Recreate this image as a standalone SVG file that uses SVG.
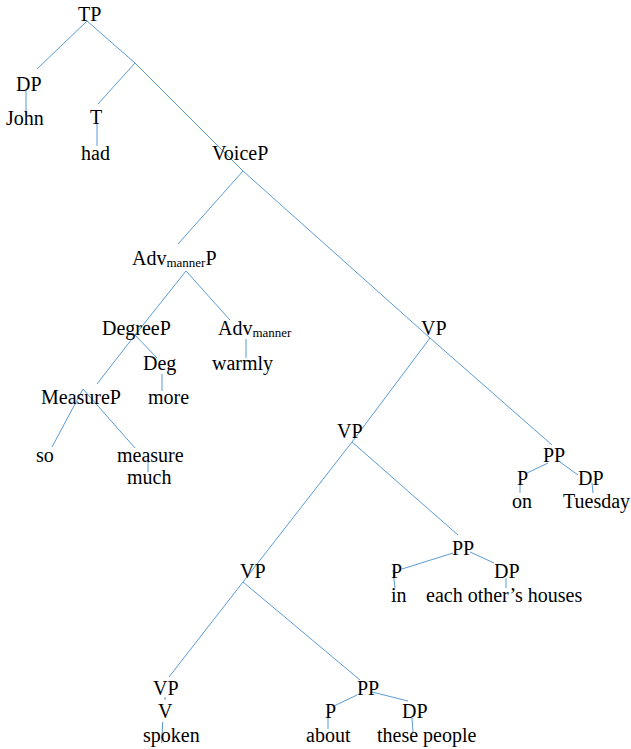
<svg xmlns="http://www.w3.org/2000/svg" width="631" height="749" viewBox="0 0 631 749">
  <style>
    text { font-family: 'Liberation Serif', 'Times New Roman', serif; font-size: 20px; fill: #000; }
    .sub { font-size: 13px; }
    #edges line { stroke: #5B9BD5; stroke-width: 1; fill: none; }
  </style>
  <rect width="631" height="749" fill="#fff"/>

  <!-- tree branches -->
  <g id="edges">
    <line x1="87" y1="21" x2="37" y2="69"/>
    <line x1="87" y1="21" x2="135" y2="63"/>
    <line x1="135" y1="63" x2="98" y2="104"/>
    <line x1="135" y1="63" x2="243" y2="171"/>
    <line x1="26" y1="90" x2="26" y2="115"/>
    <line x1="97" y1="123" x2="97" y2="146"/>
    <line x1="243" y1="171" x2="178" y2="244"/>
    <line x1="243" y1="171" x2="430" y2="338"/>
    <line x1="186" y1="271" x2="135" y2="335"/>
    <line x1="186" y1="271" x2="230" y2="320"/>
    <line x1="135" y1="335" x2="97" y2="384"/>
    <line x1="135" y1="335" x2="157" y2="358"/>
    <line x1="246" y1="339" x2="246" y2="358"/>
    <line x1="162" y1="374" x2="162" y2="391"/>
    <line x1="83" y1="389" x2="52" y2="447"/>
    <line x1="83" y1="389" x2="135" y2="448"/>
    <line x1="148" y1="460" x2="148" y2="472"/>
    <line x1="430" y1="338" x2="352" y2="442"/>
    <line x1="430" y1="338" x2="552" y2="445"/>
    <line x1="548" y1="463" x2="527" y2="473"/>
    <line x1="560" y1="462" x2="578" y2="475"/>
    <line x1="520" y1="485" x2="520" y2="493"/>
    <line x1="592" y1="483" x2="593" y2="493"/>
    <line x1="352" y1="442" x2="243" y2="582"/>
    <line x1="352" y1="442" x2="458" y2="535"/>
    <line x1="453" y1="553" x2="402" y2="569"/>
    <line x1="470" y1="552" x2="494" y2="563"/>
    <line x1="393" y1="570" x2="395" y2="588"/>
    <line x1="506" y1="578" x2="506" y2="588"/>
    <line x1="243" y1="582" x2="169" y2="677"/>
    <line x1="243" y1="582" x2="360" y2="680"/>
    <line x1="165" y1="697" x2="165" y2="700"/>
    <line x1="162.7" y1="722" x2="161.7" y2="743"/>
    <line x1="357" y1="695" x2="334" y2="706"/>
    <line x1="372" y1="692" x2="408" y2="701"/>
    <line x1="328" y1="718" x2="328" y2="729"/>
    <line x1="412" y1="718" x2="413" y2="732"/>
  </g>

  <!-- node labels -->
  <g id="tp"><text x="78" y="21">TP</text></g>
  <g id="dp-subject"><text x="16" y="91">DP</text></g>
  <g id="john"><text x="6" y="125">John</text></g>
  <g id="t"><text x="90" y="124">T</text></g>
  <g id="had"><text x="81" y="160">had</text></g>
  <g id="voicep"><text x="212" y="160">VoiceP</text></g>
  <g id="advmannerp"><text x="132" y="265">Adv<tspan class="sub" dy="2">manner</tspan><tspan dy="-2">P</tspan></text></g>
  <g id="degreep"><text x="102" y="335">DegreeP</text></g>
  <g id="advmanner"><text x="218" y="335">Adv<tspan class="sub" dy="2">manner</tspan></text></g>
  <g id="deg"><text x="143" y="370">Deg</text></g>
  <g id="warmly"><text x="212" y="370">warmly</text></g>
  <g id="measurep"><text x="41" y="404">MeasureP</text></g>
  <g id="more"><text x="148" y="404">more</text></g>
  <g id="so"><text x="36" y="462">so</text></g>
  <g id="measure"><text x="117" y="462">measure</text></g>
  <g id="much"><text x="127" y="484">much</text></g>

  <g id="vp1"><text x="421" y="335">VP</text></g>
  <g id="pp-on"><text x="543" y="462">PP</text></g>
  <g id="p-on"><text x="517" y="485">P</text></g>
  <g id="dp-tuesday"><text x="578" y="485">DP</text></g>
  <g id="on"><text x="512" y="508">on</text></g>
  <g id="tuesday"><text x="563" y="508">Tuesday</text></g>

  <g id="vp2"><text x="337" y="438">VP</text></g>
  <g id="pp-in"><text x="452" y="555">PP</text></g>
  <g id="p-in"><text x="391" y="578">P</text></g>
  <g id="dp-houses"><text x="494" y="578">DP</text></g>
  <g id="in"><text x="391" y="602">in</text></g>
  <g id="houses"><text x="426" y="602">each other’s houses</text></g>

  <g id="vp3"><text x="240" y="578">VP</text></g>
  <g id="vp4"><text x="153" y="695">VP</text></g>
  <g id="v"><text x="158" y="718">V</text></g>
  <g id="spoken"><text x="143" y="742">spoken</text></g>
  <g id="pp-about"><text x="357" y="695">PP</text></g>
  <g id="p-about"><text x="325" y="718">P</text></g>
  <g id="dp-people"><text x="402" y="718">DP</text></g>
  <g id="about"><text x="306" y="742">about</text></g>
  <g id="people"><text x="377" y="742">these people</text></g>
</svg>
